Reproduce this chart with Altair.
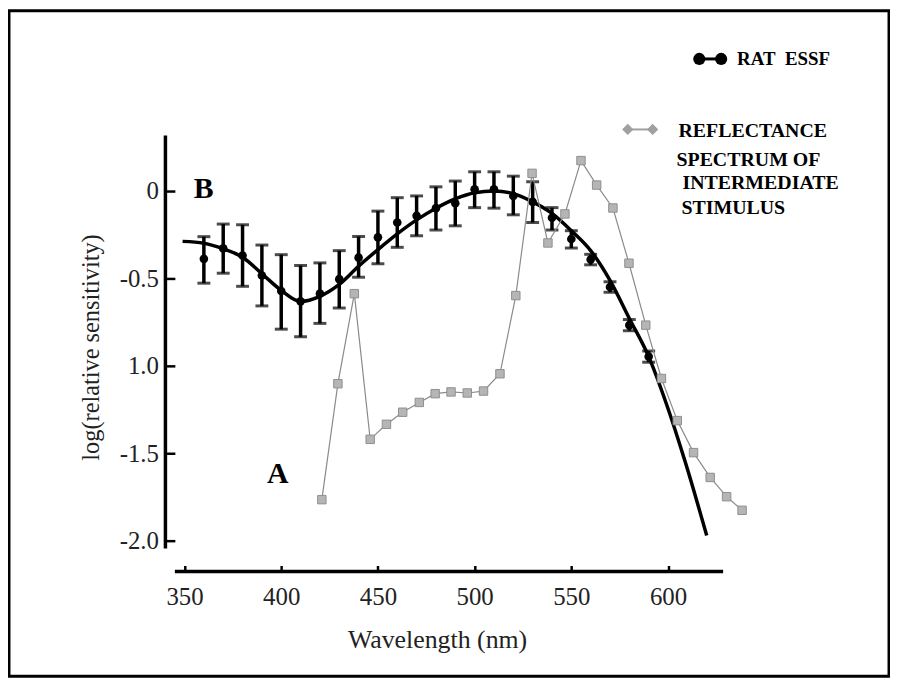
import altair as alt
import pandas as pd

# ---- data ----
ess_wl = [360, 370, 380, 390, 400, 410, 420, 430, 440, 450, 460, 470,
          480, 490, 500, 510, 520, 530, 540, 550, 560, 570, 580, 590]
ess_val = [-0.388, -0.328, -0.369, -0.483, -0.572, -0.631, -0.587, -0.504,
           -0.381, -0.265, -0.180, -0.142, -0.098, -0.070, 0.010, 0.010,
           -0.028, -0.062, -0.153, -0.274, -0.392, -0.549, -0.767, -0.947]
ess_hi = [-0.261, -0.189, -0.193, -0.309, -0.364, -0.426, -0.411, -0.341,
          -0.260, -0.115, -0.038, -0.028, 0.024, 0.057, 0.110, 0.110,
          0.085, 0.053, -0.095, -0.227, -0.362, -0.519, -0.735, -0.915]
ess_lo = [-0.527, -0.470, -0.545, -0.657, -0.790, -0.834, -0.757, -0.669,
          -0.493, -0.416, -0.322, -0.256, -0.223, -0.199, -0.095, -0.098,
          -0.136, -0.180, -0.223, -0.326, -0.422, -0.579, -0.799, -0.979]

curve_wl = [349, 360, 370, 380, 390, 400, 410, 420, 430, 440, 450, 460, 470,
            480, 490, 500, 510, 520, 530, 540, 550, 560, 570, 580, 590, 599,
            609, 620]
curve_val = [-0.288, -0.299, -0.331, -0.379, -0.473, -0.568, -0.631, -0.602,
             -0.534, -0.430, -0.335, -0.245, -0.165, -0.098, -0.045, -0.010,
             0.000, -0.015, -0.062, -0.128, -0.227, -0.341, -0.511, -0.729,
             -0.947, -1.212, -1.553, -1.970]

refl_wl = [421.0, 429.3, 437.8, 446.0, 454.4, 462.8, 471.4, 479.6, 487.8,
           496.2, 504.6, 513.1, 521.3, 529.7, 537.9, 546.7, 555.0, 563.1,
           571.5, 579.8, 588.5, 596.6, 604.8, 613.2, 621.8, 630.3, 638.3]
refl_val = [-1.765, -1.102, -0.587, -1.420, -1.334, -1.265, -1.209, -1.159,
            -1.149, -1.155, -1.144, -1.045, -0.598, 0.101, -0.297, -0.131,
            0.174, 0.034, -0.097, -0.413, -0.767, -1.072, -1.313, -1.496,
            -1.638, -1.748, -1.826]

x_ticks = [350, 400, 450, 500, 550, 600]
y_ticks = [0, -0.5, -1.0, -1.5, -2.0]

FONT = "Liberation Serif"
W, H = 552, 416

ess = pd.DataFrame({"wl": ess_wl, "val": ess_val, "hi": ess_hi, "lo": ess_lo})
curve = pd.DataFrame({"wl": curve_wl, "val": curve_val})
refl = pd.DataFrame({"wl": refl_wl, "val": refl_val, "i": list(range(len(refl_wl)))})
one = pd.DataFrame({"k": [0]})

xscale = alt.Scale(domain=[345, 628.5], nice=False, zero=False)
yscale = alt.Scale(domain=[-2.045, 0.318], nice=False, zero=False)

x_axis = alt.Axis(values=x_ticks, format="d", title="Wavelength (nm)",
                  offset=17, tickSize=6, labelPadding=13,
                  titleX=264, titleY=83, titleBaseline="alphabetic",
                  titleFontSize=26)
y_axis = alt.Axis(values=y_ticks,
                  labelExpr="datum.value == 0 ? '0' : (datum.value == -1 ? '1.0' : '-' + format(abs(datum.value), '.1f'))",
                  title="log(relative sensitivity)", tickSize=9.5, labelPadding=7,
                  titleX=-84, titleY=213, titleBaseline="middle",
                  titleFontSize=24.5)


def X():
    return alt.X("wl:Q", scale=xscale, axis=x_axis)


def Y(field):
    return alt.Y(f"{field}:Q", scale=yscale, axis=y_axis)


fit = alt.Chart(curve).mark_line(color="black", strokeWidth=3.5,
                                 interpolate="monotone").encode(x=X(), y=Y("val"))

bars = alt.Chart(ess).mark_rule(color="black", strokeWidth=3.5).encode(
    x=X(), y=Y("hi"), y2="lo:Q")
cap_hi = alt.Chart(ess).mark_tick(color="black", thickness=3, size=13,
                                  orient="horizontal").encode(x=X(), y=Y("hi"))
cap_lo = alt.Chart(ess).mark_tick(color="black", thickness=3, size=13,
                                  orient="horizontal").encode(x=X(), y=Y("lo"))
dots = alt.Chart(ess).mark_point(filled=True, shape="circle", size=75,
                                 color="black", opacity=1).encode(x=X(), y=Y("val"))

refl_line = alt.Chart(refl).mark_line(color="#8a8a8a", strokeWidth=1.2).encode(
    x=X(), y=Y("val"), order="i:Q")
refl_pts = alt.Chart(refl).mark_point(shape="square", filled=True, fill="#b5b5b5",
                                      stroke="#8f8f8f", strokeWidth=1, size=72,
                                      opacity=1).encode(x=X(), y=Y("val"))

# axis lines (detached from the plot area like the original)
yline = alt.Chart(one).mark_rule(color="black", strokeWidth=3.5).encode(
    x=alt.value(-9.5), y=alt.value(0), y2=alt.value(H))
xline = alt.Chart(one).mark_rule(color="black", strokeWidth=3.5).encode(
    x=alt.value(0), x2=alt.value(W), y=alt.value(439))

border = alt.Chart(one).mark_rect(fillOpacity=0, stroke="black", strokeWidth=3).encode(
    x=alt.value(-167), x2=alt.value(719), y=alt.value(-125.5), y2=alt.value(544.5))


def label(txt, x, y, size=20, align="left"):
    return alt.Chart(one).mark_text(font=FONT, fontSize=size, fontWeight="bold",
                                    color="black", align=align,
                                    baseline="alphabetic").encode(
        x=alt.value(x), y=alt.value(y), text=alt.value(txt))


lab_B = label("B", 29, 62.7, size=30, align="center")
lab_A = label("A", 103.5, 350, size=30, align="center")

# legend
leg_line1 = alt.Chart(one).mark_rule(color="black", strokeWidth=3).encode(
    x=alt.value(528), x2=alt.value(550), y=alt.value(-77))
leg_c1 = alt.Chart(one).mark_point(filled=True, shape="circle", size=150,
                                   color="black", opacity=1).encode(
    x=alt.value(528), y=alt.value(-77))
leg_c2 = alt.Chart(one).mark_point(filled=True, shape="circle", size=150,
                                   color="black", opacity=1).encode(
    x=alt.value(550), y=alt.value(-77))
leg_t1 = label("RAT\u00a0 ESSF", 566, -71, size=19)

leg_line2 = alt.Chart(one).mark_rule(color="#a0a0a0", strokeWidth=2).encode(
    x=alt.value(456), x2=alt.value(481), y=alt.value(-6))
leg_d1 = alt.Chart(one).mark_point(filled=True, shape="diamond", size=130,
                                   color="#a0a0a0", opacity=1).encode(
    x=alt.value(456), y=alt.value(-6))
leg_d2 = alt.Chart(one).mark_point(filled=True, shape="diamond", size=130,
                                   color="#a0a0a0", opacity=1).encode(
    x=alt.value(481), y=alt.value(-6))
leg_t2 = label("REFLECTANCE", 507, 2)
leg_t3 = label("SPECTRUM OF", 505, 31)
leg_t4 = label("INTERMEDIATE", 511, 54.3)
leg_t5 = label("STIMULUS", 510, 79.3)

chart = alt.layer(
    fit, bars, cap_hi, cap_lo, dots, refl_line, refl_pts,
    yline, xline, border, lab_B, lab_A,
    leg_line1, leg_c1, leg_c2, leg_t1, leg_line2, leg_d1, leg_d2,
    leg_t2, leg_t3, leg_t4, leg_t5,
).properties(
    width=W, height=H,
    padding={"left": 168, "top": 126, "right": 168, "bottom": 130},
    autosize=alt.AutoSizeParams(type="none"),
    background="white",
).configure_view(strokeWidth=0).configure_axis(
    grid=False, domain=False, tickColor="black", tickWidth=2.5,
    labelFont=FONT, labelFontSize=25, labelColor="#222",
    titleFont=FONT, titleFontWeight="normal", titleColor="#222",
)

chart.save("out.html", embed_options={"renderer": "svg", "actions": False})
